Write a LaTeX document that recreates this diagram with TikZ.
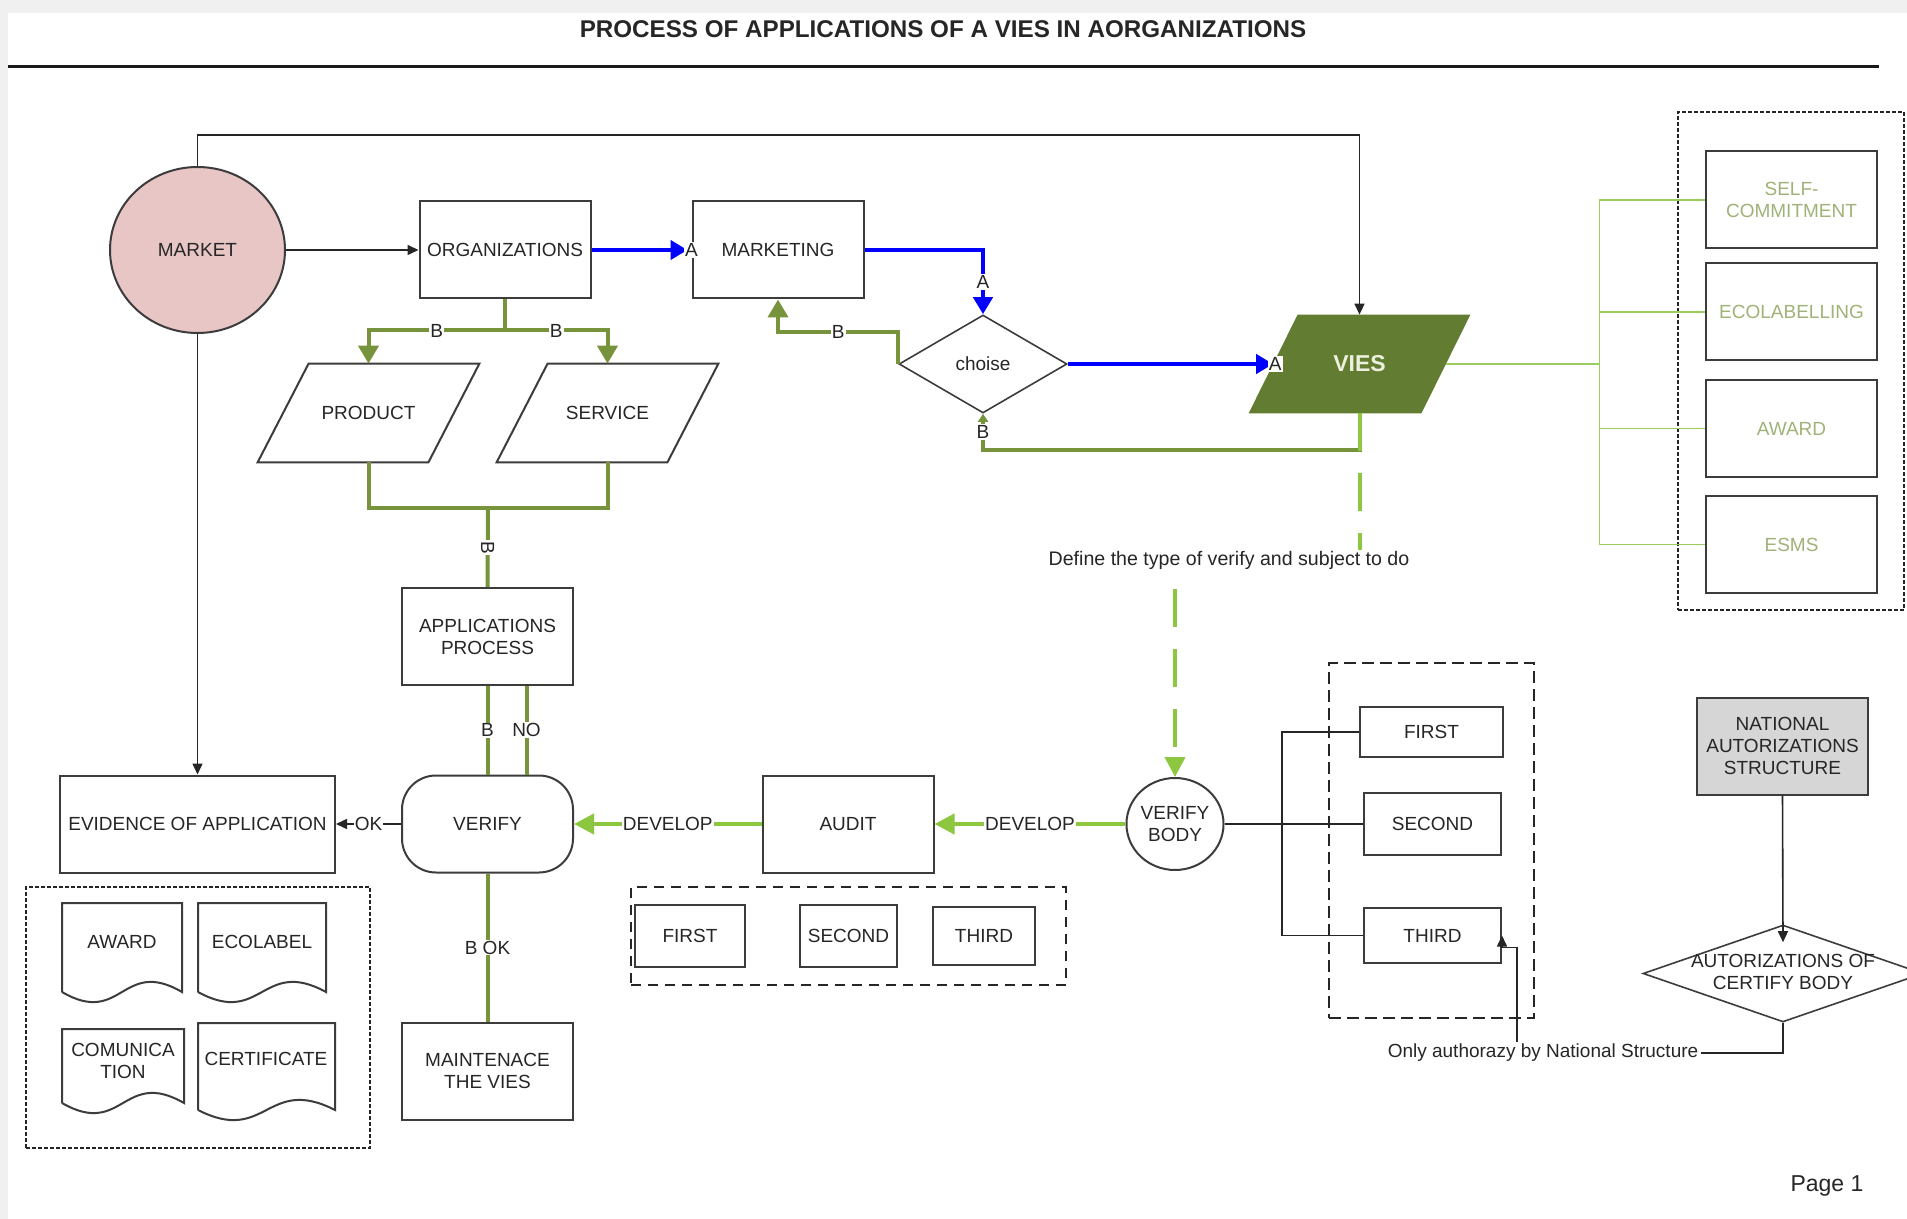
\documentclass[tikz,border=0pt]{standalone}
\usepackage{fontspec}
\setmainfont{Liberation Sans}
\usetikzlibrary{shapes.geometric,arrows.meta,calc}

\definecolor{inkc}{RGB}{38,38,38}
\definecolor{boxline}{RGB}{60,60,60}
\definecolor{dgreen}{RGB}{119,147,60}
\definecolor{lgreen}{RGB}{141,198,63}
\definecolor{viesfill}{RGB}{98,125,49}
\definecolor{viestext}{RGB}{236,240,222}
\definecolor{bracketg}{RGB}{155,206,95}
\definecolor{sagetext}{RGB}{160,178,120}
\definecolor{marketfill}{RGB}{232,198,198}
\definecolor{natfill}{RGB}{214,214,214}
\definecolor{stripgray}{RGB}{240,240,240}
\definecolor{pureblue}{RGB}{0,0,255}

% document symbol: left x, right x, top y, baseline of the wavy bottom
\newcommand{\docoutline}[4]{%
  \draw[docline] (#1,#4) -- (#1,#3) -- (#2,#3) -- (#2,#4)
    .. controls ({(#1+#2)/2},{#4-35}) and ({(#1+#2)/2},{#4+35}) .. (#1,#4);}

\tikzset{
  box/.style={draw=boxline, line width=1pt, minimum width=85.5pt, minimum height=48.5pt, inner sep=1pt, align=center},
  smallbox/.style={draw=boxline, line width=1pt, inner sep=0pt, align=center},
  txt/.style={inner sep=0pt, align=center},
  thinline/.style={draw=inkc, line width=0.8pt},
  blk/.style={thinline, -{Triangle[width=5pt,length=5.5pt]}},
  bluearr/.style={draw=pureblue, line width=2.2pt, -{Triangle[width=9.5pt,length=8.5pt]}},
  gline/.style={draw=dgreen, line width=2pt},
  garr/.style={gline, -{Triangle[width=10pt,length=9pt]}},
  dev/.style={draw=lgreen, line width=2pt, -{Triangle[width=10pt,length=10pt]}},
  devdash/.style={dev, dash pattern=on 19pt off 11pt},
  lab/.style={fill=white, inner sep=0.6pt, text=inkc},
  dotgroup/.style={draw=inkc, line width=1pt, dash pattern=on 2pt off 1pt},
  dashgroup/.style={draw=inkc, line width=0.9pt, dash pattern=on 5pt off 3.5pt},
  brline/.style={draw=bracketg, line width=0.8pt},
  docline/.style={draw=boxline, line width=1pt},
}

\begin{document}
\begin{tikzpicture}[x=0.5pt, y=-0.5pt, font=\fontsize{9.5pt}{11pt}\selectfont, text=inkc]
\useasboundingbox (0,0) rectangle (1907,1219);
\fill[white] (0,0) rectangle (1907,1219);
\fill[stripgray] (0,0) rectangle (1907,13);
\fill[stripgray] (0,0) rectangle (8,1219);

% heading
\node[font=\bfseries\fontsize{12.1pt}{14pt}\selectfont] (title) at (943,29)
  {PROCESS OF APPLICATIONS OF A VIES IN AORGANIZATIONS};
\draw[line width=1.5pt, draw=black!90] (8,67) -- (1879,67);

% grouping frames
\node[dotgroup, minimum width=172pt, minimum height=130.5pt] (docgroup) at (198,1017.5) {};
\node[dashgroup, minimum width=217.5pt, minimum height=49pt] (auditgroup) at (848.5,936) {};
\node[dashgroup, dash pattern=on 6pt off 3pt, minimum width=102.5pt, minimum height=177.5pt] (bodygroup) at (1431.5,840.5) {};
\node[dotgroup, minimum width=113pt, minimum height=249pt] (typegroup) at (1791,361) {};

% main flow
\node[ellipse, draw=boxline, line width=1pt, fill=marketfill, minimum width=87.5pt, minimum height=83pt, inner sep=0pt] (market) at (197.5,250) {MARKET};
\node[box] (org) at (505,250) {ORGANIZATIONS};
\node[box] (mkt) at (778,250) {MARKETING};
\node[diamond, draw=boxline, line width=0.8pt, minimum width=84pt, minimum height=49pt, inner sep=0pt] (choise) at (983,364) {choise};

\node[txt, minimum width=110.5pt, minimum height=49pt] (vies) at (1359.5,364) {};
\fill[viesfill] ($(vies.north west)+(49,0)$) -- (vies.north east) -- ($(vies.south east)+(-49,0)$) -- (vies.south west) -- cycle;
\node[txt, text=viestext, font=\bfseries\fontsize{11.5pt}{13pt}\selectfont] (viestitle) at (vies.center) {VIES};

\node[txt, minimum width=110.5pt, minimum height=49pt] (prod) at (368.5,413) {PRODUCT};
\draw[docline] ($(prod.north west)+(51,0)$) -- (prod.north east) -- ($(prod.south east)+(-51,0)$) -- (prod.south west) -- cycle;
\node[txt, minimum width=110.5pt, minimum height=49pt] (serv) at (607.5,413) {SERVICE};
\draw[docline] ($(serv.north west)+(51,0)$) -- (serv.north east) -- ($(serv.south east)+(-51,0)$) -- (serv.south west) -- cycle;

\node[box] (apps) at (487.5,636.5) {APPLICATIONS\\PROCESS};
\node[box, rounded corners=17pt] (verify) at (487.5,824) {VERIFY};
\node[box, minimum width=137.5pt] (evid) at (197.5,824) {EVIDENCE OF APPLICATION};
\node[box] (audit) at (848,824) {AUDIT};
\node[ellipse, draw=boxline, line width=1pt, minimum width=47pt, minimum height=46pt, inner sep=0pt, align=center] (vb) at (1175,824) {VERIFY\\BODY};
\node[box] (maint) at (487.5,1071) {MAINTENACE\\THE VIES};

% audit parties
\node[smallbox, minimum width=55pt, minimum height=31pt] (first1) at (690,936) {FIRST};
\node[smallbox, minimum width=48.5pt, minimum height=31pt] (second1) at (848.5,936) {SECOND};
\node[smallbox, minimum width=51pt, minimum height=29pt] (third1) at (984,936) {THIRD};

% verifying bodies
\node[smallbox, minimum width=71.5pt, minimum height=25pt] (first2) at (1431.5,732) {FIRST};
\node[smallbox, minimum width=68.5pt, minimum height=31pt] (second2) at (1432.5,824) {SECOND};
\node[smallbox, minimum width=68.5pt, minimum height=27.5pt] (third2) at (1432.5,935.5) {THIRD};

% national structure
\node[box, fill=natfill] (natl) at (1782.5,746) {NATIONAL\\AUTORIZATIONS\\STRUCTURE};
\node[diamond, draw=boxline, line width=0.8pt, minimum width=140pt, minimum height=48.5pt, inner sep=0pt] (auth) at (1783,973.5) {};
\node[txt] (authtext) at (1783,972) {AUTORIZATIONS OF\\CERTIFY BODY};

% kinds of VIES
\node[box, text=sagetext] (selfc) at (1791.5,200) {SELF-\\COMMITMENT};
\node[box, text=sagetext] (ecol) at (1791.5,312) {ECOLABELLING};
\node[box, text=sagetext] (award) at (1791.5,428.5) {AWARD};
\node[box, text=sagetext] (esms) at (1791.5,544.5) {ESMS};

% evidence documents
\docoutline{62}{182}{903}{992}
\docoutline{198}{326}{903}{992}
\docoutline{62}{184}{1029}{1103}
\docoutline{198}{335}{1023}{1110}
\node[txt] (docaward) at (122,942) {AWARD};
\node[txt] (doceco) at (262,942) {ECOLABEL};
\node[txt] (doccom) at (123,1061) {COMUNICA\\TION};
\node[txt] (doccert) at (266,1059) {CERTIFICATE};

% connectors
\draw[blk] (market.east) -- (org.west);
\draw[blk] (market.north) -- ++(0,-31) -| (vies.north);
\draw[blk] (market.south) -- (evid.north);

\draw[bluearr, shorten >=2pt] (org.east) -- (mkt.west) node[lab, pos=1] {A};
\draw[bluearr] (mkt.east) -| (choise.north) node[lab, pos=0.75] {A};
\draw[bluearr] (choise.east) -- ($(vies.west)+(24.5,0)$) node[lab, pos=1, xshift=1pt] {A};

\draw[garr] (choise.west) -- ++(0,-32) -| (mkt.south) node[lab, pos=0.25] {B};
\draw[gline, -{Triangle[width=5pt,length=4pt]}] (vies.south) -- ++(0,37) -| (choise.south) node[lab, pos=0.75] {B};

\draw[garr] (org.south) -- ++(0,31) -| (prod.north) node[lab, pos=0.25] {B};
\draw[garr] (org.south) -- ++(0,31) -| (serv.north) node[lab, pos=0.25] {B};

\coordinate (join) at ($(prod.south)!0.5!(serv.south)+(0,46)$);
\draw[gline] (prod.south) -- ++(0,46) -| (serv.south);
\draw[gline] (join) -- (apps.north) node[lab, pos=0.5, rotate=-90] {B};

\draw[gline] (apps.south) -- (verify.north) node[lab, midway] {B};
\draw[gline] ($(apps.south)+(39,0)$) -- ($(verify.north)+(39,0)$) node[lab, midway] {NO};
\draw[blk] (verify.west) -- (evid.east) node[lab, midway] {OK};
\draw[gline] (verify.south) -- (maint.north) node[lab, midway] {B OK};
\draw[dev] (audit.west) -- (verify.east) node[lab, midway] {DEVELOP};
\draw[dev] (vb.west) -- (audit.east) node[lab, midway] {DEVELOP};

\draw[devdash] (vies.south) -- ++(0,147) -| (vb.north);
\node[lab, font=\fontsize{9.8pt}{11pt}\selectfont] (defn) at (1229,560) {Define the type of verify and subject to do};

\draw[thinline] (vb.east) -- (second2.west);
\draw[thinline] (first2.west) -- ++(-77,0) |- (third2.west);

\coordinate (bk) at ($(vies.east)+(129,0)$);
\draw[brline] ($(vies.east)+(-24.5,0)$) -- (bk);
\draw[brline] (bk |- selfc.west) -- (bk |- esms.west);
\foreach \n in {selfc,ecol,award,esms}
  \draw[brline] (bk |- \n.west) -- (\n.west);

\node[txt, fill=white, inner sep=1pt] (onlytxt) at (1543,1053) {Only authorazy by National Structure};
\draw[blk] (natl.south) -- ($(auth.north)+(0,18)$);
\draw[thinline] (auth.south) |- (onlytxt.east);
\draw[blk] ($(onlytxt.north)+(-26,0)$) |- ($(third2.east)+(0,12)$) -- (third2.east);

\node[font=\fontsize{11.5pt}{13pt}\selectfont] (pagenum) at (1827,1186) {Page 1};
\end{tikzpicture}
\end{document}
